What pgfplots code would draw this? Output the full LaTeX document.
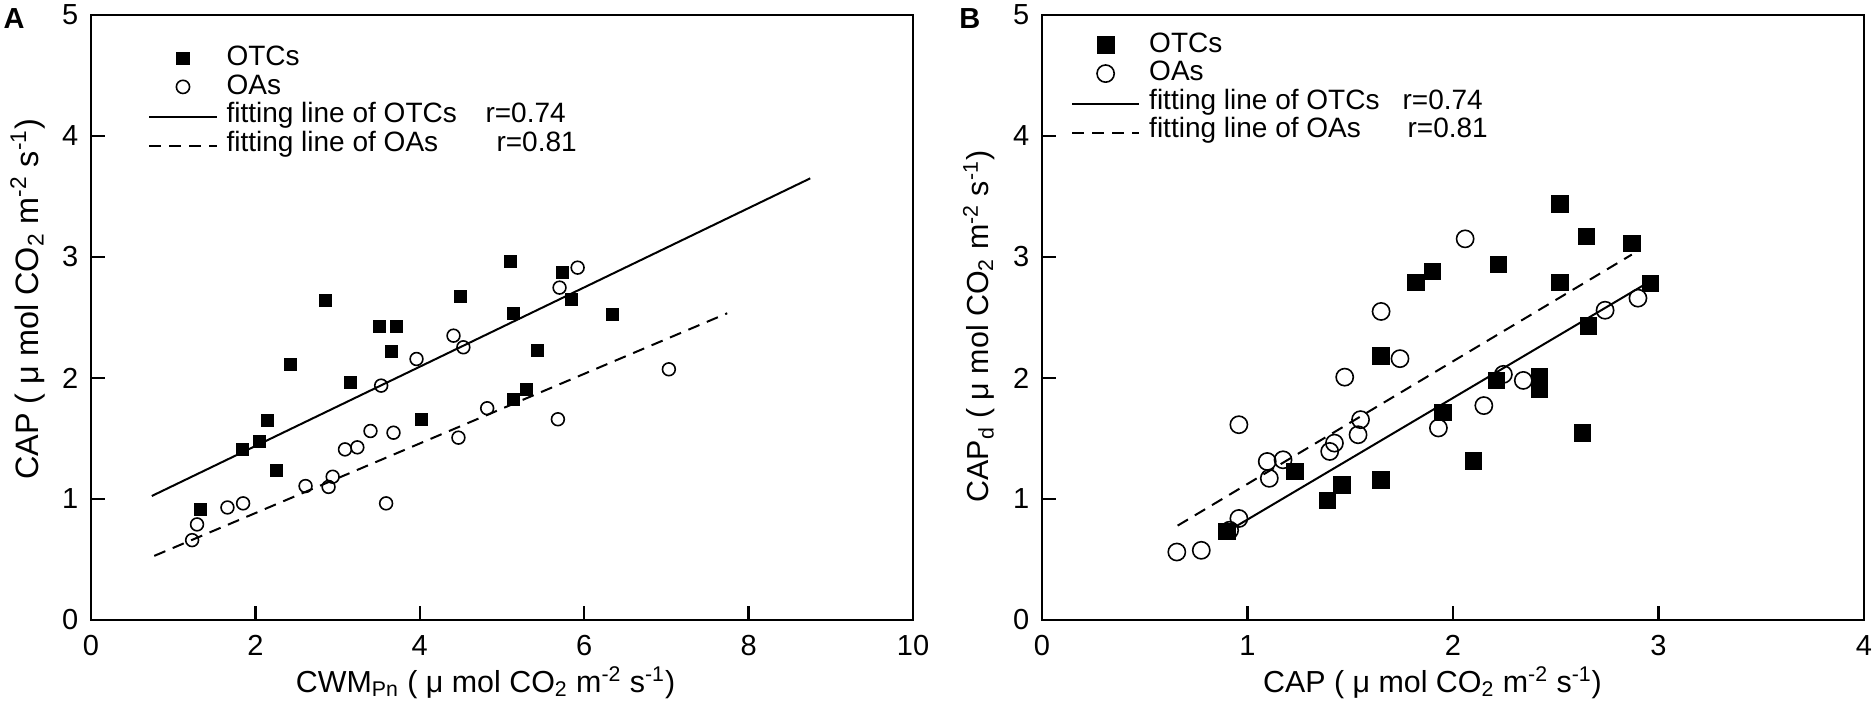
\documentclass[border=0pt]{standalone}
\usepackage{fontspec}
\setmainfont{Liberation Sans}
\usepackage{pgfplots}
\pgfplotsset{compat=1.18}

\pgfplotsset{
  myax/.style={
    scale only axis, width=411pt, height=302.5pt,
    ymin=0, ymax=5, ytick={0,1,2,3,4,5},
    axis line style={line width=1.2pt},
    every tick/.style={line width=1.2pt, black},
    major tick length=7pt,
    tick align=inside,
    xtick pos=bottom, ytick pos=left,
    tick label style={font=\fontsize{14.5}{17}\selectfont},
    xticklabel style={yshift=-4pt},
    yticklabel style={xshift=-2.8pt},
    label style={font=\fontsize{15.2}{18}\selectfont},
    /pgf/number format/assume math mode=true,
    xlabel style={at={(axis description cs:0.48,0)}, anchor=base, yshift=-36pt},
    legend cell align=left,
    legend style={draw=none, fill=none, inner sep=0pt, outer sep=0pt,
      row sep=2.75pt, column sep=0pt, anchor=north west,
      font=\fontsize{14}{17}\selectfont,
      /tikz/every odd column/.append style={column sep=3.5pt},
      nodes={inner sep=1pt, text height=0.74em, text depth=0.21em}},
  },
  mkleg/.style={legend image code/.code={\draw[##1] plot coordinates {(16.8pt,1pt)};}},
  lnleg/.style={legend image code/.code={\draw[##1] (0pt,0pt) -- (33.6pt,0pt);}},
  fitline/.style={black, line width=1pt, no marks},
  fitdash/.style={black, line width=1pt, no marks, dash pattern=on 6pt off 4pt},
}

\begin{document}
\begin{tikzpicture}
\useasboundingbox (0,0) rectangle (936pt,359pt);

% ---------------- Panel A ----------------
\begin{axis}[myax, at={(45.5pt,49pt)}, anchor=south west,
  xmin=0, xmax=10, xtick={0,2,4,6,8,10},
  xlabel={CWM\textsubscript{Pn} ( μ mol CO\textsubscript{2} m\textsuperscript{-2} s\textsuperscript{-1})},
  ylabel={CAP ( μ mol CO\textsubscript{2} m\textsuperscript{-2} s\textsuperscript{-1})},
  ylabel style={at={(axis description cs:-0.077,0.53)}, anchor=center, font=\fontsize{16.2}{19}\selectfont},
  legend style={at={(axis description cs:0.0698,0.944)}},
]
\addlegendimage{only marks, mark=square*, mark size=3.2pt, black, mkleg}
\addlegendentry{OTCs}
\addlegendimage{only marks, mark=o, mark size=3.3pt, black, mark options={fill=white, line width=0.8pt}, mkleg}
\addlegendentry{OAs}
\addlegendimage{fitline, lnleg}
\addlegendentry{\makebox[129.5pt][l]{fitting line of OTCs}r=0.74}
\addlegendimage{fitdash, lnleg}
\addlegendentry{\makebox[135pt][l]{fitting line of OAs}r=0.81}

\addplot[fitline, forget plot] coordinates {(0.74,1.025) (8.75,3.65)};
\addplot[fitdash, forget plot] coordinates {(0.77,0.53) (7.74,2.535)};

\addplot[only marks, mark=square*, mark size=3pt, black, forget plot] coordinates {
(1.33,0.915) (1.84,1.41) (2.05,1.474) (2.14,1.653) (2.25,1.24) (2.42,2.113)
(2.85,2.64) (3.16,1.961) (3.51,2.43) (3.65,2.223) (3.72,2.43) (4.02,1.659)
(4.49,2.672) (5.10,2.967) (5.14,2.535) (5.14,1.824) (5.30,1.906) (5.43,2.226)
(5.73,2.87) (5.85,2.653) (6.34,2.529)};
\addplot[only marks, mark=o, mark size=3.2pt, black, mark options={fill=white, line width=0.8pt}, forget plot] coordinates {
(1.23,0.66) (1.29,0.79) (1.66,0.93) (1.85,0.964) (2.61,1.107) (2.89,1.10)
(2.94,1.184) (3.09,1.41) (3.24,1.427) (3.40,1.562) (3.53,1.937) (3.59,0.964)
(3.68,1.548) (3.96,2.157) (4.41,2.35) (4.47,1.507) (4.53,2.254) (4.82,1.75)
(5.68,1.659) (5.70,2.747) (5.92,2.912) (7.03,2.072)};
\end{axis}

% ---------------- Panel B ----------------
\begin{axis}[myax, at={(521pt,49pt)}, anchor=south west,
  xmin=0, xmax=4, xtick={0,1,2,3,4},
  xlabel={CAP ( μ mol CO\textsubscript{2} m\textsuperscript{-2} s\textsuperscript{-1})},
  xlabel style={at={(axis description cs:0.475,0)}},
  ylabel={CAP\textsubscript{d} ( μ mol CO\textsubscript{2} m\textsuperscript{-2} s\textsuperscript{-1})},
  ylabel style={at={(axis description cs:-0.077,0.485)}, anchor=center},
  legend style={at={(axis description cs:0.0353,0.966)}},
]
\addlegendimage{only marks, mark=square*, mark size=4.3pt, black, mkleg}
\addlegendentry{OTCs}
\addlegendimage{only marks, mark=o, mark size=4.3pt, black, mark options={fill=white, line width=0.8pt}, mkleg}
\addlegendentry{OAs}
\addlegendimage{fitline, lnleg}
\addlegendentry{\makebox[126.7pt][l]{fitting line of OTCs}r=0.74}
\addlegendimage{fitdash, lnleg}
\addlegendentry{\makebox[129.2pt][l]{fitting line of OAs}r=0.81}

\addplot[fitline, forget plot] coordinates {(0.92,0.75) (2.97,2.81)};
\addplot[fitdash, forget plot] coordinates {(0.66,0.78) (2.87,3.02)};

\addplot[only marks, mark=square*, mark size=4.1pt, black, forget plot] coordinates {
(0.90,0.73) (1.23,1.227) (1.39,0.99) (1.46,1.116) (1.65,1.157) (1.65,2.182)
(1.82,2.79) (1.90,2.879) (1.95,1.717) (2.10,1.315) (2.21,1.98) (2.22,2.937)
(2.42,2.015) (2.42,1.905) (2.52,3.44) (2.52,2.79) (2.63,1.545) (2.65,3.17)
(2.66,2.43) (2.87,3.11) (2.96,2.78)};
\addplot[only marks, mark=o, mark size=4.3pt, black, mark options={fill=white, line width=0.8pt}, forget plot] coordinates {
(0.656,0.562) (0.775,0.576) (0.913,0.742) (0.958,0.839) (0.958,1.614) (1.096,1.31)
(1.106,1.171) (1.173,1.324) (1.40,1.393) (1.423,1.462) (1.473,2.007) (1.538,1.531)
(1.55,1.656) (1.65,2.55) (1.742,2.16) (1.929,1.587) (2.059,3.15) (2.15,1.772)
(2.245,2.03) (2.342,1.98) (2.74,2.56) (2.90,2.66)};
\end{axis}

\node[font=\bfseries\fontsize{14.5}{17}\selectfont, anchor=north west, inner sep=0pt] at (1.6pt,354.8pt) {A};
\node[font=\bfseries\fontsize{14.5}{17}\selectfont, anchor=north west, inner sep=0pt] at (479.5pt,354.8pt) {B};
\end{tikzpicture}
\end{document}
